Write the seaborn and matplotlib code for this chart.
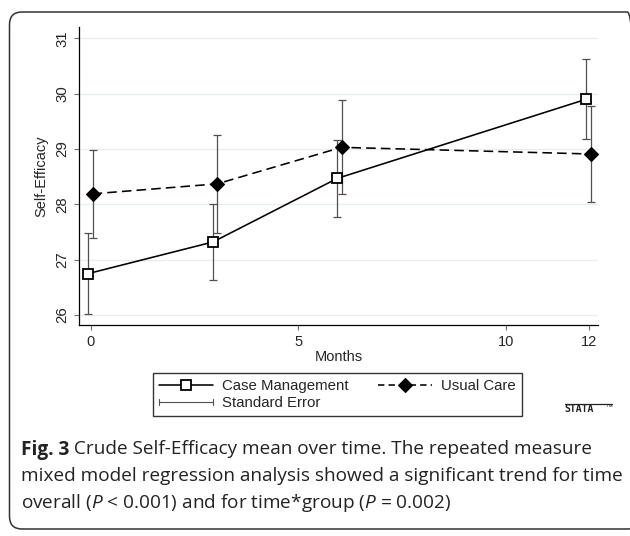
import numpy as np
import pandas as pd
import matplotlib
matplotlib.use("Agg")
import matplotlib.pyplot as plt
import seaborn as sns
from matplotlib.lines import Line2D
from matplotlib.legend_handler import HandlerBase
from matplotlib.patches import FancyBboxPatch

# ---------------- data ----------------
months = [0, 3, 6, 12]
cm_mean = [26.75, 27.32, 28.47, 29.90]
cm_se = [0.73, 0.69, 0.70, 0.72]
uc_mean = [28.19, 28.37, 29.03, 28.91]
uc_se = [0.80, 0.89, 0.85, 0.87]
groups = ["Case Management", "Usual Care"]
se_label = "Standard Error"
xticks = [0, 5, 10, 12]
yticks = [26, 27, 28, 29, 30, 31]
xlabel = "Months"
ylabel = "Self-Efficacy"
cap_bold = "Fig. 3"
caption = [
    " Crude Self-Efficacy mean over time. The repeated measure",
    "mixed model regression analysis showed a significant trend for time",
    r"overall ($\mathit{P}$ < 0.001) and for time*group ($\mathit{P}$ = 0.002)",
]

# small horizontal jitter used in the original Stata graph
cm_off, uc_off = -0.06, 0.04

sns.set_theme(style="white")
plt.rcParams["font.family"] = ["Liberation Sans", "DejaVu Sans"]
plt.rcParams["mathtext.fontset"] = "custom"
plt.rcParams["mathtext.rm"] = "Open Sans"
plt.rcParams["mathtext.it"] = "Open Sans:italic"
plt.rcParams["mathtext.bf"] = "Open Sans:bold"

W, H = 630, 536
fig = plt.figure(figsize=(W / 100, H / 100), dpi=100)
fig.patch.set_facecolor("white")

def fx(px):
    return px / W

def fy(py):
    return 1 - py / H

ax = fig.add_axes([fx(79.3), fy(325), fx(598) - fx(79.3), fy(26.7) - fy(325)])
ax.set_facecolor("white")

df = pd.DataFrame({
    "month": months * 2,
    "mean": cm_mean + uc_mean,
    "se": cm_se + uc_se,
    "group": [groups[0]] * 4 + [groups[1]] * 4,
})
df["x"] = df["month"] + np.where(df["group"] == groups[0], cm_off, uc_off)

# grid
for yt in yticks:
    ax.axhline(yt, color="#e6eef0", lw=0.9, zorder=0)

# error bars
for g in groups:
    d = df[df["group"] == g]
    ax.errorbar(d["x"], d["mean"], yerr=d["se"], fmt="none", ecolor="#505050",
                elinewidth=0.9, capsize=2.6, capthick=0.9, zorder=3)

cm = df[df["group"] == groups[0]]
uc = df[df["group"] == groups[1]]
sns.lineplot(data=cm, x="x", y="mean", ax=ax, color="black", lw=1.15,
             marker="s", markersize=6.8, markerfacecolor="white",
             markeredgecolor="black", markeredgewidth=1.3, zorder=5, legend=False)
sns.lineplot(data=uc, x="x", y="mean", ax=ax, color="black", lw=1.15,
             marker="D", markersize=7.0, markerfacecolor="black",
             markeredgecolor="black", markeredgewidth=0.8, zorder=5, legend=False)
ax.lines[-1].set_dashes((6.0, 3.2))

ax.set_xlim(-0.28, 12.22)
ax.set_ylim(25.82, 31.21)
ax.set_xticks(xticks)
ax.set_yticks(yticks)
ax.set_xticklabels([str(t) for t in xticks], fontsize=10.5)
ax.set_yticklabels([str(t) for t in yticks], fontsize=10.8, rotation=90, va="center")
ax.tick_params(axis="both", direction="out", length=3.6, width=0.8, color="#707070",
               pad=3.5, bottom=True, left=True)
ax.set_xlabel(xlabel, fontsize=10.5, labelpad=1)
ax.set_ylabel(ylabel, fontsize=10.5, labelpad=5)
for s in ["top", "right"]:
    ax.spines[s].set_visible(False)
for s in ["left", "bottom"]:
    ax.spines[s].set_color("black")
    ax.spines[s].set_linewidth(0.9)

# legend
class SEHandle:
    pass

class HandlerSE(HandlerBase):
    def create_artists(self, legend, orig_handle, xdescent, ydescent, width,
                       height, fontsize, trans):
        y = height / 2 - ydescent
        x0 = -xdescent
        x1 = x0 + width
        c = "#505050"
        arts = [Line2D([x0, x1], [y, y], color=c, lw=0.8),
                Line2D([x0, x0], [y - 2.2, y + 2.2], color=c, lw=0.8),
                Line2D([x1, x1], [y - 2.2, y + 2.2], color=c, lw=0.8)]
        for a in arts:
            a.set_transform(trans)
        return arts

h_cm = Line2D([], [], color="black", lw=1.15, marker="s", markersize=6.8,
              markerfacecolor="white", markeredgecolor="black", markeredgewidth=1.3)
h_uc = Line2D([], [], color="black", lw=1.15, marker="D", markersize=7.0,
              markerfacecolor="black", markeredgewidth=0.8)
h_uc.set_dashes((4.0, 2.6))
h_se = SEHandle()
leg = fig.legend([h_cm, h_se, h_uc], [groups[0], se_label, groups[1]], ncol=2,
                 loc="upper left", bbox_to_anchor=(fx(152.7), fy(372.8)),
                 fontsize=10.8, frameon=True, fancybox=False, edgecolor="black",
                 handlelength=3.6, handletextpad=0.65, columnspacing=1.9,
                 labelspacing=0.22, borderpad=0.4, borderaxespad=0,
                 handler_map={SEHandle: HandlerSE()})
leg.get_frame().set_linewidth(1.0)

# stata logo
fig.add_artist(Line2D([fx(565), fx(612)], [fy(403.5), fy(403.5)], color="#222222", lw=0.9))
fig.text(fx(564.5), fy(409.5), "STATA", fontsize=7.0, color="#222222", va="center",
         ha="left", family="DejaVu Sans Mono", fontweight="bold")
fig.text(fx(605), fy(407.5), "™", fontsize=5.0, color="#222222", va="center", ha="left")

# caption (fit to measured width)
renderer = fig.canvas.get_renderer()
probe = fig.text(0, 0, caption[1], fontsize=10, family="Open Sans")
w = probe.get_window_extent(renderer).width
probe.remove()
cap_fs = 10 * (623.0 - 21.0) / w
x0 = fx(21.0)
tb = fig.text(x0, fy(447), cap_bold, fontsize=cap_fs, family="Open Sans",
              fontweight="bold", color="#222222", va="center_baseline", ha="left")
bw = tb.get_window_extent(renderer).width
fig.text(fx(21.0 + bw), fy(447), caption[0], fontsize=cap_fs, family="Open Sans",
         color="#222222", va="center_baseline", ha="left")
for line, yc in zip(caption[1:], [474, 500]):
    fig.text(x0, fy(yc), line, fontsize=cap_fs, family="Open Sans",
             color="#222222", va="center_baseline", ha="left")

# outer frame
frame = FancyBboxPatch((fx(9.5), fy(529)), fx(640) - fx(9.5), fy(12) - fy(529),
                       boxstyle="round,pad=0,rounding_size=0.02",
                       transform=fig.transFigure, fill=False, edgecolor="#333333",
                       lw=1.1, mutation_aspect=W / H)
fig.add_artist(frame)

fig.savefig("out.png", dpi=100)
